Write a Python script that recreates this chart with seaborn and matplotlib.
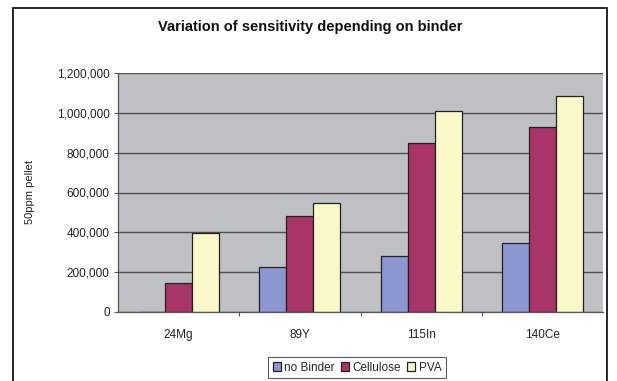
import matplotlib
matplotlib.use("Agg")
import matplotlib.pyplot as plt
import seaborn as sns
import pandas as pd
from matplotlib.patches import Rectangle
from matplotlib.ticker import FuncFormatter, FixedLocator

isotopes = ["24Mg", "89Y", "115In", "140Ce"]
no_binder = [0, 226000, 281000, 346000]
cellulose = [146000, 482000, 849000, 929000]
pva = [397000, 547000, 1008000, 1085000]
binders = ["no Binder", "Cellulose", "PVA"]
colors = ["#8C96D0", "#A83468", "#FAF8C8"]

rows = []
for name, vals in zip(binders, [no_binder, cellulose, pva]):
    for iso, v in zip(isotopes, vals):
        rows.append({"isotope": iso, "binder": name, "signal": v})
df = pd.DataFrame(rows)

sns.set_theme(style="white")
plt.rcParams["font.family"] = ["Liberation Sans", "DejaVu Sans"]

fig = plt.figure(figsize=(6.17, 3.81), dpi=100)
ax = fig.add_axes([118 / 617, 1 - 312 / 381, (603 - 118) / 617, (312 - 73) / 381])

sns.barplot(data=df, x="isotope", y="signal", hue="binder", hue_order=binders,
            palette=colors, width=0.67, edgecolor="#222222", linewidth=0.9,
            saturation=1, ax=ax, legend=True)

ax.set_facecolor("#BEC0C3")
ax.set_ylim(0, 1200000)
ax.set_xlim(-0.5, 3.5)
ax.set_yticks(range(0, 1200001, 200000))
ax.yaxis.set_major_formatter(FuncFormatter(lambda v, p: f"{int(v):,}"))
ax.yaxis.grid(True, color="#505050", linewidth=1.0)
ax.set_axisbelow(True)

# category labels without tick marks; boundary ticks between categories
ax.tick_params(axis="x", which="major", length=0, labelsize=8.5, pad=12)
ax.xaxis.set_minor_locator(FixedLocator([0.5, 1.5, 2.5]))
ax.tick_params(axis="x", which="minor", length=3, width=0.8, color="#555555", bottom=True)
ax.tick_params(axis="y", which="major", length=3, width=0.8, color="#555555",
               left=True, labelsize=8.5, pad=3)
for lbl in ax.get_xticklabels() + ax.get_yticklabels():
    lbl.set_color("#222222")

for side in ["top", "right"]:
    ax.spines[side].set_visible(False)
for side in ["left", "bottom"]:
    ax.spines[side].set_color("#555555")
    ax.spines[side].set_linewidth(0.9)

ax.set_xlabel("")
ax.set_ylabel("50ppm pellet", fontsize=8, labelpad=16, color="#222222")

leg = ax.legend(loc="upper center", bbox_to_anchor=(357 / 617, 1 - 357 / 381),
                bbox_transform=fig.transFigure, ncol=3, fontsize=8.5,
                frameon=True, fancybox=False, edgecolor="#333333",
                handlelength=0.7, handleheight=0.7, handletextpad=0.3,
                columnspacing=0.5, borderpad=0.4, borderaxespad=0)
leg.get_frame().set_linewidth(0.8)

fig.text(310 / 617, 1 - 27 / 381, "Variation of sensitivity depending on binder",
         ha="center", va="center", fontsize=10.5, fontweight="bold", color="#111111")

# outer chart frame
fig.patches.append(Rectangle((13 / 617, -0.05), (607 - 13) / 617, 1.05 - 8 / 381,
                             transform=fig.transFigure, fill=False,
                             edgecolor="black", linewidth=1.2))

fig.savefig("out.png", dpi=100)
